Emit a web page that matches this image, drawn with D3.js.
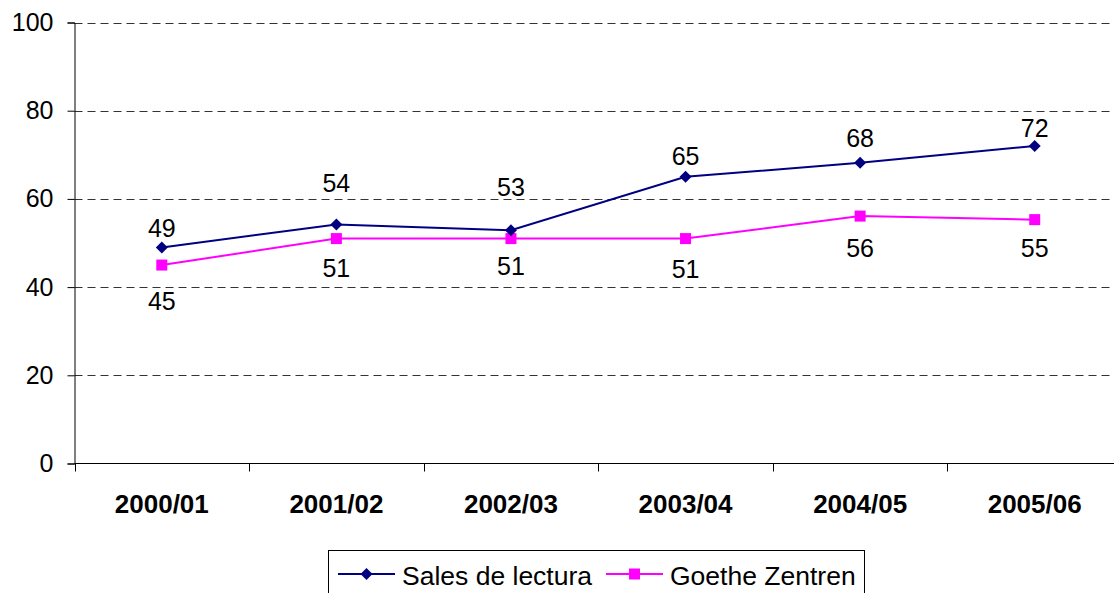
<!DOCTYPE html>
<html>
<head>
<meta charset="utf-8">
<script src="https://cdn.jsdelivr.net/npm/d3@7"></script>
<style>
  body { margin: 0; background: #fff; }
  svg text { font-family: "Liberation Sans", Arial, sans-serif; fill: #000; }
</style>
</head>
<body>
<svg id="chart" width="1114" height="593"></svg>
<script>
const seasons = ['2000/01', '2001/02', '2002/03', '2003/04', '2004/05', '2005/06'];
const salesDeLectura = [49, 54.2, 52.9, 65, 68.2, 72];
const goetheZentren = [45, 51, 51, 51, 56.1, 55.3];
const yTicks = [0, 20, 40, 60, 80, 100];

// label nudges (px from the point), as placed in the original
const salesLabelDy = [-10, -32, -34, -12, -16, -9];
const goetheLabelDy = [45, 38, 36, 39, 41, 37];

const svg = d3.select('#chart');

const plotLeft = 74.5, plotRight = 1122, plotTop = 22.5, plotBottom = 463.5;

const x = d3.scaleBand()
  .domain(seasons)
  .range([plotLeft, plotRight]);

const y = d3.scaleLinear()
  .domain([0, 100])
  .range([plotBottom, plotTop]);

const cx = (d) => x(d) + x.bandwidth() / 2;

// grid lines
svg.append('g')
  .selectAll('line')
  .data(yTicks.filter(t => t > 0))
  .enter()
  .append('line')
  .attr('x1', plotLeft)
  .attr('x2', plotRight)
  .attr('y1', d => Math.round(y(d)) + 0.5)
  .attr('y2', d => Math.round(y(d)) + 0.5)
  .attr('stroke', '#333')
  .attr('stroke-width', 1)
  .attr('stroke-dasharray', '8,5');

// y axis
const yAxis = svg.append('g')
  .attr('transform', `translate(${plotLeft},0)`)
  .call(d3.axisLeft(y).tickValues(yTicks).tickSize(7).tickPadding(14));
yAxis.select('.domain').attr('stroke', '#000');
yAxis.selectAll('.tick line').attr('stroke', '#000');
yAxis.selectAll('text')
  .attr('font-size', 25)
  .attr('font-family', '"Liberation Sans", Arial, sans-serif')
  .attr('fill', '#000');

// x axis line + ticks at band edges
svg.append('line')
  .attr('x1', plotLeft).attr('x2', plotRight)
  .attr('y1', plotBottom).attr('y2', plotBottom)
  .attr('stroke', '#000');

svg.append('g')
  .selectAll('line')
  .data(seasons)
  .enter()
  .append('line')
  .attr('x1', d => Math.round(x(d)) + 0.5)
  .attr('x2', d => Math.round(x(d)) + 0.5)
  .attr('y1', plotBottom)
  .attr('y2', plotBottom + 8)
  .attr('stroke', '#000');

svg.append('g')
  .selectAll('text')
  .data(seasons)
  .enter()
  .append('text')
  .attr('x', d => cx(d))
  .attr('y', 512.5)
  .attr('text-anchor', 'middle')
  .attr('font-size', 26)
  .attr('font-weight', 'bold')
  .text(d => d);

const line = d3.line()
  .x((d, i) => cx(seasons[i]))
  .y(d => y(d));

// diamond = square turned 45 degrees
const series = [
  { name: 'Sales de lectura', values: salesDeLectura, color: '#000080', rot: 45, size: 72, dy: salesLabelDy },
  { name: 'Goethe Zentren', values: goetheZentren, color: '#FF00FF', rot: 0, size: 121, dy: goetheLabelDy }
];

const marker = (s) => d3.symbol().type(d3.symbolSquare).size(s.size);

// draw Goethe first so Sales sits on top
[series[1], series[0]].forEach(s => {
  svg.append('path')
    .datum(s.values)
    .attr('d', line)
    .attr('fill', 'none')
    .attr('stroke', s.color)
    .attr('stroke-width', 2);

  svg.append('g')
    .selectAll('path')
    .data(s.values)
    .enter()
    .append('path')
    .attr('transform', (d, i) => `translate(${cx(seasons[i])},${y(d)}) rotate(${s.rot})`)
    .attr('d', marker(s))
    .attr('fill', s.color);

  svg.append('g')
    .selectAll('text')
    .data(s.values)
    .enter()
    .append('text')
    .attr('x', (d, i) => cx(seasons[i]))
    .attr('y', (d, i) => y(d) + s.dy[i])
    .attr('text-anchor', 'middle')
    .attr('font-size', 25)
    .text(d => Math.round(d));
});

// legend
const legend = svg.append('g');
legend.append('rect')
  .attr('x', 328.5).attr('y', 550.5)
  .attr('width', 536).attr('height', 60)
  .attr('fill', '#fff')
  .attr('stroke', '#000');

const legendX = [338, 606];
const textX = [402, 670];
series.forEach((s, i) => {
  legend.append('line')
    .attr('x1', legendX[i]).attr('x2', legendX[i] + 57)
    .attr('y1', 574).attr('y2', 574)
    .attr('stroke', s.color)
    .attr('stroke-width', 2);
  legend.append('path')
    .attr('transform', `translate(${legendX[i] + 28.5},574) rotate(${s.rot})`)
    .attr('d', marker(s))
    .attr('fill', s.color);
  legend.append('text')
    .attr('x', textX[i])
    .attr('y', 585)
    .attr('font-size', 26.5)
    .text(s.name);
});
</script>
</body>
</html>
